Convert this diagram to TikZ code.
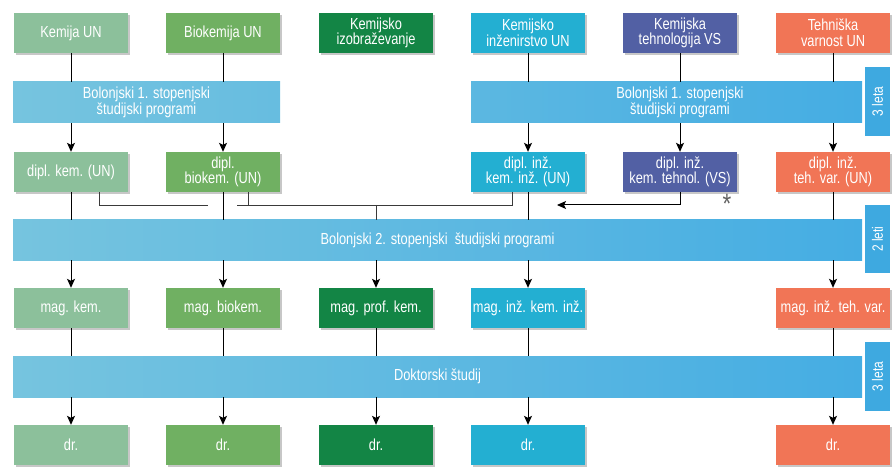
\documentclass[tikz,border=0pt]{standalone}
\usepackage{fontspec}
\setmainfont{Liberation Sans}[FakeStretch=0.8]
\usetikzlibrary{arrows.meta,shadows}
\definecolor{cA}{HTML}{8CC09B}
\definecolor{cB}{HTML}{70B062}
\definecolor{cC}{HTML}{138545}
\definecolor{cD}{HTML}{23AFD2}
\definecolor{cE}{HTML}{5260A4}
\definecolor{cF}{HTML}{F17556}
\definecolor{barL}{HTML}{76C4DF}
\definecolor{barR}{HTML}{45ADE3}
\definecolor{sidec}{HTML}{3EA9E0}
\definecolor{connc}{HTML}{3A3A3A}
\tikzset{
  x=1pt, y=-1pt,
  txt/.style={text=white, align=center, font=\fontsize{16}{15.5}\selectfont},
  box/.style={txt, minimum width=114pt, minimum height=40pt, inner sep=0pt,
    drop shadow={shadow xshift=2pt, shadow yshift=-2pt, opacity=0.22, fill=black}},
  bar/.style={txt, inner sep=0pt, left color=barL, right color=barR},
  side/.style={text=white, fill=sidec, inner sep=0pt, rotate=90,
    minimum height=25pt, font=\fontsize{15}{15}\selectfont},
  vline/.style={draw=black, line width=1pt},
  arr/.style={draw=black, line width=1pt, -{Stealth[length=9pt,width=8pt,inset=2pt]}},
  conn/.style={draw=connc, line width=0.9pt},
}
\begin{document}
\begin{tikzpicture}
\useasboundingbox (0,0) rectangle (893,470);
% top row
\node[box, fill=cA] (t1) at (71,33) {Kemija UN};
\node[box, fill=cB] (t2) at (223,33) {Biokemija UN};
\node[box, fill=cC] (t3) at (376,33) {Kemijsko\\izobraževanje};
\node[box, fill=cD] (t4) at (528,33) {Kemijsko\\inženirstvo UN};
\node[box, fill=cE] (t5) at (680,33) {Kemijska\\tehnologija VS};
\node[box, fill=cF] (t6) at (833,33) {Tehniška\\varnost UN};
% bars
\node[bar, minimum width=267pt, minimum height=41pt, right color=barL!69!barR] (b1l) at (146.5,102.5) {Bolonjski 1. stopenjski\\študijski programi};
\node[bar, minimum width=391pt, minimum height=41pt, left color=barL!46!barR] (b1r) at (666.5,102.5) {};
\node[txt] (b1rt) at (680,102.5) {Bolonjski 1. stopenjski\\študijski programi};
\node[bar, minimum width=849pt, minimum height=40pt] (b2) at (437.5,240) {Bolonjski 2. stopenjski \ študijski programi};
\node[bar, minimum width=849pt, minimum height=41pt] (b3) at (437.5,376.5) {Doktorski študij};
% side labels
\node[side, minimum width=69pt] (s1) at (877.5,101.5) {3 leta};
\node[side, minimum width=68pt] (s2) at (877.5,239) {2 leti};
\node[side, minimum width=69pt] (s3) at (877.5,376.5) {3 leta};
% dipl row
\node[box, fill=cA] (d1) at (71,172) {dipl. kem. (UN)};
\node[box, fill=cB] (d2) at (223,172) {dipl.\\biokem. (UN)};
\node[box, fill=cD] (d4) at (528,172) {dipl. inž.\\kem. inž. (UN)};
\node[box, fill=cE] (d5) at (680,172) {dipl. inž.\\kem. tehnol. (VS)};
\node[box, fill=cF] (d6) at (833,172) {dipl. inž.\\teh. var. (UN)};
% mag row
\node[box, fill=cA] (m1) at (71,308) {mag. kem.};
\node[box, fill=cB] (m2) at (223,308) {mag. biokem.};
\node[box, fill=cC] (m3) at (376,308) {mag. prof. kem.};
\node[box, fill=cD] (m4) at (528,308) {mag. inž. kem. inž.};
\node[box, fill=cF] (m6) at (833,308) {mag. inž. teh. var.};
% dr row
\node[box, fill=cA] (r1) at (71,445) {dr.};
\node[box, fill=cB] (r2) at (223,445) {dr.};
\node[box, fill=cC] (r3) at (376,445) {dr.};
\node[box, fill=cD] (r4) at (528,445) {dr.};
\node[box, fill=cF] (r6) at (833,445) {dr.};
% asterisk
\node[text=connc!80, inner sep=0pt, font=\fontsize{28}{28}\selectfont] (ast) at (727,203.5) {*};
% top -> bar1
\draw[vline] (t1.south) -- (t1.south |- b1l.north);
\draw[vline] (t2.south) -- (t2.south |- b1l.north);
\draw[vline] (t4.south) -- (t4.south |- b1r.north);
\draw[vline] (t5.south) -- (t5.south |- b1r.north);
\draw[vline] (t6.south) -- (t6.south |- b1r.north);
% bar1 -> dipl
\draw[arr] (d1.north |- b1l.south) -- (d1.north);
\draw[arr] (d2.north |- b1l.south) -- (d2.north);
\draw[arr] (d4.north |- b1r.south) -- (d4.north);
\draw[arr] (d5.north |- b1r.south) -- (d5.north);
\draw[arr] (d6.north |- b1r.south) -- (d6.north);
% dipl -> bar2
\draw[vline] (d1.south) -- (d1.south |- b2.north);
\draw[vline] (d2.south) -- (d2.south |- b2.north);
\draw[vline] (d4.south) -- (d4.south |- b2.north);
\draw[vline] (d6.south) -- (d6.south |- b2.north);
% cross connectors
\coordinate (h1) at (208,205);
\coordinate (h2) at (237,205);
\coordinate (h4) at (557,205);
\draw[conn] ([xshift=28pt]d1.south) |- (h1);
\draw[conn] ([xshift=-16pt]d4.south) |- (h2);
\draw[conn] ([xshift=25pt]d2.south) -- ([xshift=25pt]d2.south |- h2);
\draw[conn] (h2 -| m3) -- (b2.north -| m3);
\draw[arr] (d5.south) |- (h4);
% bar2 -> mag
\draw[arr] (m1.north |- b2.south) -- (m1.north);
\draw[arr] (m2.north |- b2.south) -- (m2.north);
\draw[arr] (m3.north |- b2.south) -- (m3.north);
\draw[arr] (m4.north |- b2.south) -- (m4.north);
\draw[arr] (m6.north |- b2.south) -- (m6.north);
% mag -> bar3
\draw[vline] (m1.south) -- (m1.south |- b3.north);
\draw[vline] (m2.south) -- (m2.south |- b3.north);
\draw[vline] (m3.south) -- (m3.south |- b3.north);
\draw[vline] (m4.south) -- (m4.south |- b3.north);
\draw[vline] (m6.south) -- (m6.south |- b3.north);
% bar3 -> dr
\draw[arr] (r1.north |- b3.south) -- (r1.north);
\draw[arr] (r2.north |- b3.south) -- (r2.north);
\draw[arr] (r3.north |- b3.south) -- (r3.north);
\draw[arr] (r4.north |- b3.south) -- (r4.north);
\draw[arr] (r6.north |- b3.south) -- (r6.north);
\end{tikzpicture}
\end{document}
